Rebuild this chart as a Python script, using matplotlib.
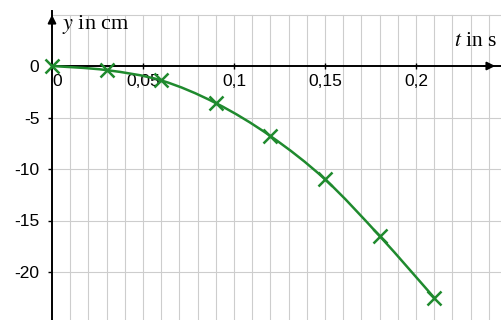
import matplotlib
matplotlib.use("Agg")
import matplotlib.pyplot as plt
from matplotlib.path import Path
from matplotlib.patches import PathPatch
import numpy as np

# Data
t_values = [0.0, 0.03, 0.06, 0.09, 0.12, 0.15, 0.18, 0.21]
y_values = [0.0, -0.4, -1.4, -3.6, -6.8, -11.0, -16.5, -22.5]
xtick_values = [0, 0.05, 0.1, 0.15, 0.2]
xtick_labels = ["0", "0,05", "0,1", "0,15", "0,2"]
ytick_values = [0, -5, -10, -15, -20]
ytick_labels = ["0", "-5", "-10", "-15", "-20"]
x_label = "t in s"
y_label = "y in cm"

W, H = 501, 320
fig = plt.figure(figsize=(W / 100, H / 100), dpi=100)
fig.patch.set_facecolor("white")

ax = fig.add_axes([52 / W, 0, 1 - 52 / W, 1])
px_per_s = 1820.0
px_per_cm = 10.3
ax.set_xlim(0, (W - 52) / px_per_s)
ax.set_ylim(-(H - 66) / px_per_cm, 66 / px_per_cm)

# grid paper
grid_col = "#cdcdcd"
for gx in np.arange(0.01, 0.25, 0.01):
    ax.plot([gx, gx], [-30, 5.0], color=grid_col, lw=0.8, zorder=1)
for gy in [5, -5, -10, -15, -20]:
    ax.plot([0, 0.3], [gy, gy], color=grid_col, lw=0.8, zorder=1)

for s in ["top", "right"]:
    ax.spines[s].set_visible(False)
ax.spines["bottom"].set_position(("data", 0))
ax.spines["bottom"].set_linewidth(1.4)
ax.spines["left"].set_linewidth(1.4)
ax.spines["left"].set_bounds(-30, 5.3)

ax.set_xticks(xtick_values)
ax.set_xticklabels(xtick_labels)
ax.set_yticks(ytick_values)
ax.set_yticklabels(ytick_labels)
fam = ["Liberation Sans", "DejaVu Sans"]
for lab in ax.get_xticklabels() + ax.get_yticklabels():
    lab.set_fontfamily(fam)
    lab.set_fontsize(12.5)
ax.tick_params(axis="x", direction="inout", length=5, width=1, pad=3)
ax.tick_params(axis="y", direction="out", length=3, width=1, pad=6)
for lab in ax.get_xticklabels():
    if lab.get_text() == "0":
        lab.set_horizontalalignment("left")
xt = ax.xaxis.get_major_ticks()
xt[0].tick1line.set_visible(False)
yt = ax.yaxis.get_major_ticks()
yt[0].tick1line.set_visible(False)

# arrow heads
ax.annotate("", xy=((W - 3 - 52) / px_per_s, 0), xytext=((W - 20 - 52) / px_per_s, 0),
            arrowprops=dict(arrowstyle="-|>", color="black", lw=1.4, mutation_scale=12),
            annotation_clip=False, zorder=5)
ax.annotate("", xy=(0, (66 - 12) / px_per_cm), xytext=(0, 3.5),
            arrowprops=dict(arrowstyle="-|>", color="black", lw=1.4, mutation_scale=12),
            annotation_clip=False, zorder=5)

# smooth curve through the data points (Catmull-Rom as cubic Bezier)
green = "#1f8a2e"
P = np.column_stack([t_values, y_values])
verts = [tuple(P[0])]
codes = [Path.MOVETO]
n = len(P)
for i in range(n - 1):
    p0 = P[i - 1] if i > 0 else P[i]
    p1, p2 = P[i], P[i + 1]
    p3 = P[i + 2] if i + 2 < n else P[i + 1]
    c1 = p1 + (p2 - p0) / 6.0
    c2 = p2 - (p3 - p1) / 6.0
    verts += [tuple(c1), tuple(c2), tuple(p2)]
    codes += [Path.CURVE4] * 3
ax.add_patch(PathPatch(Path(verts, codes), facecolor="none", edgecolor=green,
                       lw=1.8, zorder=4, clip_on=False))
ax.plot(t_values, y_values, linestyle="none", marker="x", ms=10, mew=1.8,
        color=green, zorder=4, clip_on=False)

# labels
plt.rcParams["mathtext.fontset"] = "stix"
fig.text(62 / W, 1 - 24 / H, r"$y$ in cm", family=["Liberation Serif"], size=16,
         ha="left", va="center")
fig.text(497 / W, 1 - 42 / H, r"$t$ in s", family=["Liberation Serif"], size=15.5,
         ha="right", va="center")

fig.savefig("out.png", dpi=100, facecolor="white")
